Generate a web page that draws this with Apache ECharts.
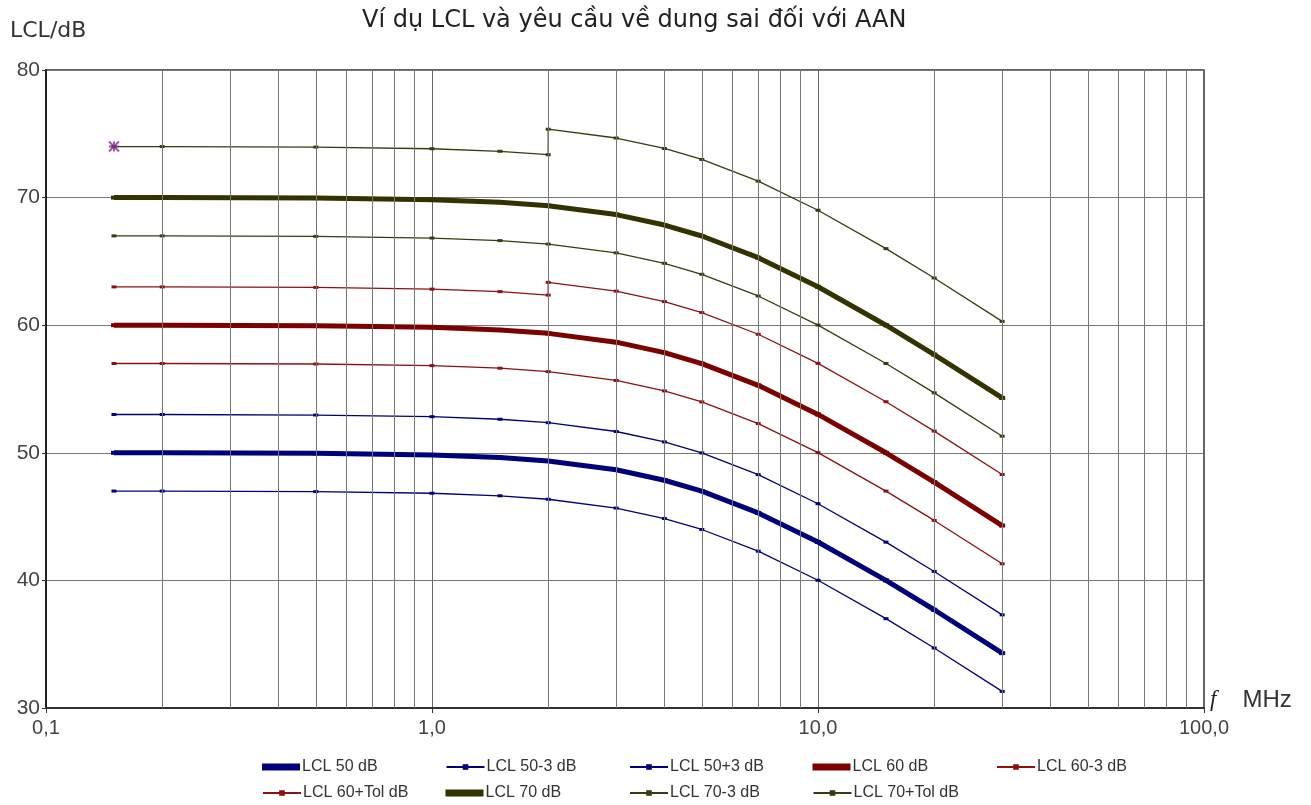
<!DOCTYPE html>
<html>
<head>
<meta charset="utf-8">
<script src="https://cdn.jsdelivr.net/npm/echarts@6/dist/echarts.min.js"></script>
<style>
  html, body { margin: 0; padding: 0; background: #fff; }
  #chart { width: 1311px; height: 805px; }
</style>
</head>
<body>
<div id="chart"></div>
<script>
// frequencies (MHz) where the curves have points
var freq = [0.15, 0.2, 0.5, 1, 1.5, 2, 3, 4, 5, 7, 10, 15, 20, 30];
// same, but with the 2 MHz step used by the +Tol curves
var freqTol = [0.15, 0.2, 0.5, 1, 1.5, 2, 2, 3, 4, 5, 7, 10, 15, 20, 30];

var lcl50   = [50.0, 50.0, 49.96, 49.83, 49.63, 49.36, 48.67, 47.85, 46.99, 45.29, 43.01, 40.0, 37.7, 34.3];
var lcl50m3 = [47.0, 47.0, 46.96, 46.83, 46.63, 46.36, 45.67, 44.85, 43.99, 42.29, 40.01, 37.0, 34.7, 31.3];
var lcl50p3 = [53.0, 53.0, 52.96, 52.83, 52.63, 52.36, 51.67, 50.85, 49.99, 48.29, 46.01, 43.0, 40.7, 37.3];
var lcl60   = [60.0, 60.0, 59.96, 59.83, 59.63, 59.36, 58.67, 57.85, 56.99, 55.29, 53.01, 50.0, 47.7, 44.3];
var lcl60m3 = [57.0, 57.0, 56.96, 56.83, 56.63, 56.36, 55.67, 54.85, 53.99, 52.29, 50.01, 47.0, 44.7, 41.3];
var lcl60tol = [63.0, 63.0, 62.96, 62.83, 62.63, 62.36, 63.36, 62.67, 61.85, 60.99, 59.29, 57.01, 54.0, 51.7, 48.3];
var lcl70   = [70.0, 70.0, 69.96, 69.83, 69.63, 69.36, 68.67, 67.85, 66.99, 65.29, 63.01, 60.0, 57.7, 54.3];
var lcl70m3 = [67.0, 67.0, 66.96, 66.83, 66.63, 66.36, 65.67, 64.85, 63.99, 62.29, 60.01, 57.0, 54.7, 51.3];
var lcl70tol = [74.0, 74.0, 73.96, 73.83, 73.63, 73.36, 75.36, 74.67, 73.85, 72.99, 71.29, 69.01, 66.0, 63.7, 60.3];

// the single marked point (asterisk)
var markPoint = [[0.15, 74]];

// vertical grid lines between the decades
var gridFreq = [0.2, 0.3, 0.4, 0.5, 0.6, 0.7, 0.8, 0.9,
                2, 3, 4, 5, 6, 7, 8, 9,
                20, 30, 40, 50, 60, 70, 80, 90];

var xTickLabels = { '-1': '0,1', '0': '1,0', '1': '10,0', '2': '100,0' };

var legendRow1 = ['LCL 50 dB', 'LCL 50-3 dB', 'LCL 50+3 dB', 'LCL 60 dB', 'LCL 60-3 dB'];
var legendRow2 = ['LCL 60+Tol dB', 'LCL 70 dB', 'LCL 70-3 dB', 'LCL 70+Tol dB'];

var BLUE = '#00007a', RED = '#7d0000', OLIVE = '#333300';
var thick = { 'LCL 50 dB': 1, 'LCL 60 dB': 1, 'LCL 70 dB': 1 };

function pairs(xs, ys) {
  return xs.map(function (x, i) { return [x, ys[i]]; });
}

function thinLine(name, xs, ys, color) {
  return {
    name: name, type: 'line', data: pairs(xs, ys),
    symbol: 'rect', symbolSize: [5, 3],
    lineStyle: { color: color, width: 1.3 },
    itemStyle: { color: color },
    emphasis: { disabled: true },
    z: 3
  };
}

function thickLine(name, xs, ys, color) {
  return {
    name: name, type: 'line', data: pairs(xs, ys),
    symbol: 'rect', symbolSize: [6, 4],
    lineStyle: { color: color, width: 5 },
    itemStyle: { color: color },
    emphasis: { disabled: true },
    z: 4
  };
}

// one legend block per entry so that the columns line up like the original
function makeLegends() {
  var out = [];
  [legendRow1, legendRow2].forEach(function (row, r) {
    row.forEach(function (n, c) {
      out.push({
        data: [thick[n] ? { name: n, icon: 'rect' } : { name: n, itemStyle: { borderWidth: 0 } }],
        left: 262 + c * 183.5, top: 759 + r * 26,
        padding: 0,
        itemWidth: 38, itemHeight: 7, itemGap: 0,
        selectedMode: false,
        textStyle: { fontFamily: 'Liberation Sans', fontSize: 16, color: '#333', padding: [0, 0, 0, -3] }
      });
    });
  });
  return out;
}

var chart = echarts.init(document.getElementById('chart'));

var option = {
  backgroundColor: '#fff',
  animation: false,
  title: {
    text: 'Ví dụ LCL và yêu cầu về dung sai đối với AAN',
    left: 357, top: 4,
    textStyle: { fontFamily: 'DejaVu Sans', fontSize: 24, fontWeight: 'normal', color: '#222' }
  },
  legend: makeLegends(),
  grid: {
    left: 46, right: 107, top: 70, bottom: 97,
    show: true, borderColor: '#333', borderWidth: 1.5
  },
  xAxis: {
    type: 'log', logBase: 10, min: 0.1, max: 100,
    name: '{f|f}{u|MHz}',
    nameLocation: 'end', nameGap: 6,
    nameTextStyle: {
      verticalAlign: 'bottom', padding: [0, 0, -4, 0],
      rich: {
        f: { fontFamily: 'Liberation Serif', fontStyle: 'italic', fontSize: 23, color: '#222' },
        u: { fontFamily: 'Liberation Sans', fontSize: 24, color: '#333', padding: [0, 0, 0, 26] }
      }
    },
    axisLine: { lineStyle: { color: '#333', width: 2 } },
    axisTick: { show: true, length: 5, lineStyle: { color: '#333' } },
    axisLabel: {
      fontFamily: 'Liberation Sans', fontSize: 20, color: '#444', margin: 10,
      formatter: function (v) { return xTickLabels[String(Math.round(Math.log10(v)))] || ''; }
    },
    splitLine: { show: true, lineStyle: { color: '#666', width: 1 } }
  },
  yAxis: {
    type: 'value', min: 30, max: 80, interval: 10,
    name: 'LCL/dB', nameLocation: 'end', nameGap: 28,
    nameTextStyle: { fontFamily: 'DejaVu Sans', fontSize: 22, color: '#333', align: 'left', padding: [0, 0, 0, -36] },
    axisLine: { show: true, lineStyle: { color: '#222', width: 2 } },
    axisTick: { show: true, length: 4, lineStyle: { color: '#333' } },
    axisLabel: { fontFamily: 'Liberation Sans', fontSize: 21, color: '#444', margin: 6 },
    splitLine: { show: true, lineStyle: { color: '#777', width: 1.2 } }
  },
  series: [
    thickLine('LCL 50 dB', freq, lcl50, BLUE),
    thinLine('LCL 50-3 dB', freq, lcl50m3, BLUE),
    thinLine('LCL 50+3 dB', freq, lcl50p3, BLUE),
    thickLine('LCL 60 dB', freq, lcl60, RED),
    thinLine('LCL 60-3 dB', freq, lcl60m3, '#8f1010'),
    thinLine('LCL 60+Tol dB', freqTol, lcl60tol, '#8f1010'),
    thickLine('LCL 70 dB', freq, lcl70, OLIVE),
    thinLine('LCL 70-3 dB', freq, lcl70m3, '#3a3a10'),
    thinLine('LCL 70+Tol dB', freqTol, lcl70tol, '#3a3a10'),
    {
      name: 'gridlines', type: 'line', data: [],
      markLine: {
        silent: true, symbol: 'none', label: { show: false },
        lineStyle: { color: '#777', width: 1, type: 'solid' },
        data: gridFreq.map(function (f) { return { xAxis: f }; })
      },
      z: 1
    },
    {
      name: 'mark', type: 'scatter', data: markPoint,
      symbol: 'path://M0,0L10,10M10,0L0,10M5,0L5,10M0,5L10,5',
      symbolSize: 10,
      itemStyle: { color: 'none', borderColor: '#8a2a9a', borderWidth: 2 },
      z: 5
    }
  ]
};

chart.setOption(option);
</script>
</body>
</html>
